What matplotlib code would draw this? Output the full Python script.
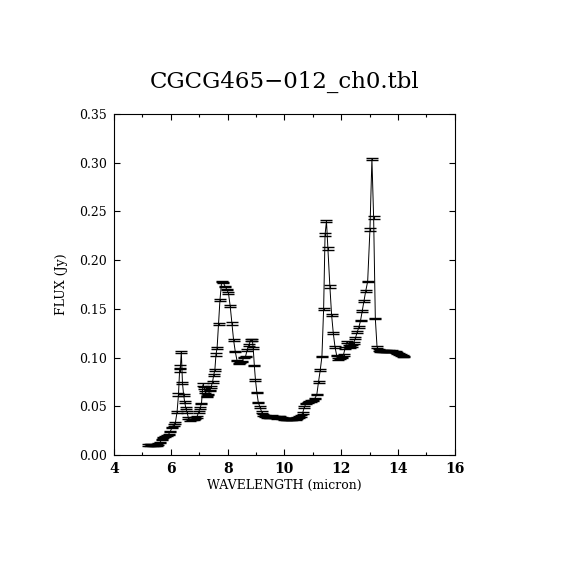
import matplotlib
matplotlib.use('Agg')
from matplotlib import pyplot as plt
from matplotlib.ticker import MultipleLocator, FormatStrFormatter

# spectrum (micron, Jy)
wavelength = [5.20, 5.26, 5.32, 5.38, 5.44, 5.50, 5.56, 5.62, 5.68, 5.74,
              5.80, 5.86, 5.92, 5.98, 6.04, 6.10, 6.16, 6.22, 6.27, 6.31,
              6.34, 6.37, 6.41, 6.45, 6.49, 6.53, 6.57, 6.62, 6.68, 6.74,
              6.80, 6.86, 6.92, 6.98, 7.03, 7.08, 7.13, 7.17, 7.22, 7.27,
              7.32, 7.37, 7.42, 7.47, 7.51, 7.55, 7.59, 7.63, 7.68, 7.73,
              7.79, 7.85, 7.91, 7.97, 8.03, 8.09, 8.15, 8.21, 8.27, 8.33,
              8.39, 8.45, 8.51, 8.57, 8.63, 8.69, 8.75, 8.81, 8.87, 8.90,
              8.94, 8.98, 9.03, 9.08, 9.14, 9.20, 9.26, 9.32, 9.38, 9.44,
              9.50, 9.56, 9.62, 9.68, 9.74, 9.80, 9.86, 9.92, 9.98, 10.04,
              10.10, 10.16, 10.22, 10.28, 10.34, 10.40, 10.46, 10.52, 10.58, 10.64,
              10.70, 10.76, 10.82, 10.88, 10.94, 11.00, 11.07, 11.14, 11.20, 11.26,
              11.32, 11.38, 11.43, 11.48, 11.53, 11.60, 11.66, 11.72, 11.78, 11.84,
              11.90, 11.96, 12.02, 12.08, 12.14, 12.20, 12.26, 12.32, 12.38, 12.44,
              12.50, 12.56, 12.62, 12.68, 12.74, 12.80, 12.86, 12.93, 13.01, 13.08,
              13.14, 13.20, 13.26, 13.32, 13.38, 13.44, 13.50, 13.56, 13.62, 13.68,
              13.74, 13.80, 13.86, 13.92, 13.98, 14.04, 14.10, 14.16, 14.22]

flux = [0.0105, 0.0100, 0.0108, 0.0098, 0.0095, 0.0102, 0.0112, 0.0130, 0.0160, 0.0180,
        0.0188, 0.0200, 0.0212, 0.0240, 0.0280, 0.0310, 0.0330, 0.0440, 0.0620, 0.0870,
        0.0910, 0.1060, 0.0740, 0.0620, 0.0540, 0.0480, 0.0440, 0.0380, 0.0360, 0.0365,
        0.0362, 0.0380, 0.0392, 0.0440, 0.0480, 0.0530, 0.0720, 0.0690, 0.0650, 0.0600,
        0.0620, 0.0660, 0.0700, 0.0750, 0.0820, 0.0870, 0.1030, 0.1100, 0.1340, 0.1590,
        0.1780, 0.1770, 0.1730, 0.1700, 0.1660, 0.1530, 0.1350, 0.1180, 0.1060, 0.0970,
        0.0940, 0.0950, 0.0960, 0.1000, 0.1010, 0.1080, 0.1130, 0.1180, 0.1180, 0.1100,
        0.0920, 0.0770, 0.0640, 0.0540, 0.0490, 0.0440, 0.0410, 0.0400, 0.0390, 0.0392,
        0.0385, 0.0400, 0.0395, 0.0385, 0.0380, 0.0390, 0.0388, 0.0380, 0.0372, 0.0370,
        0.0368, 0.0370, 0.0370, 0.0368, 0.0375, 0.0372, 0.0378, 0.0390, 0.0400, 0.0430,
        0.0490, 0.0530, 0.0540, 0.0550, 0.0552, 0.0560, 0.0580, 0.0620, 0.0750, 0.0870,
        0.1010, 0.1500, 0.2260, 0.2400, 0.2120, 0.1730, 0.1440, 0.1250, 0.1110, 0.1020,
        0.0985, 0.0990, 0.1000, 0.1030, 0.1100, 0.1160, 0.1120, 0.1110, 0.1120, 0.1150,
        0.1200, 0.1260, 0.1310, 0.1380, 0.1480, 0.1580, 0.1680, 0.1780, 0.2310, 0.3040,
        0.2440, 0.1400, 0.1110, 0.1080, 0.1070, 0.1070, 0.1065, 0.1070, 0.1060, 0.1068,
        0.1060, 0.1065, 0.1060, 0.1055, 0.1045, 0.1035, 0.1025, 0.1015, 0.1010]

flux_err = [0.0008, 0.0008, 0.0008, 0.0008, 0.0008, 0.0008, 0.0008, 0.0008, 0.0008, 0.0008,
            0.0008, 0.0008, 0.0008, 0.0008, 0.0008, 0.0008, 0.0008, 0.0010, 0.0012, 0.0015,
            0.0015, 0.0012, 0.0012, 0.0010, 0.0010, 0.0008, 0.0008, 0.0008, 0.0008, 0.0008,
            0.0008, 0.0008, 0.0008, 0.0008, 0.0008, 0.0008, 0.0015, 0.0010, 0.0010, 0.0008,
            0.0008, 0.0008, 0.0010, 0.0010, 0.0010, 0.0010, 0.0012, 0.0010, 0.0010, 0.0010,
            0.0008, 0.0008, 0.0008, 0.0008, 0.0008, 0.0010, 0.0012, 0.0010, 0.0008, 0.0008,
            0.0008, 0.0008, 0.0008, 0.0008, 0.0008, 0.0008, 0.0008, 0.0010, 0.0010, 0.0008,
            0.0008, 0.0008, 0.0008, 0.0008, 0.0008, 0.0008, 0.0008, 0.0008, 0.0008, 0.0008,
            0.0008, 0.0008, 0.0008, 0.0008, 0.0008, 0.0008, 0.0008, 0.0008, 0.0008, 0.0008,
            0.0008, 0.0008, 0.0008, 0.0008, 0.0008, 0.0008, 0.0008, 0.0008, 0.0008, 0.0008,
            0.0008, 0.0008, 0.0008, 0.0008, 0.0008, 0.0008, 0.0008, 0.0008, 0.0008, 0.0008,
            0.0008, 0.0012, 0.0015, 0.0010, 0.0015, 0.0015, 0.0010, 0.0008, 0.0008, 0.0008,
            0.0008, 0.0008, 0.0008, 0.0010, 0.0010, 0.0008, 0.0010, 0.0008, 0.0008, 0.0008,
            0.0008, 0.0010, 0.0010, 0.0008, 0.0008, 0.0008, 0.0010, 0.0008, 0.0015, 0.0012,
            0.0015, 0.0008, 0.0012, 0.0010, 0.0008, 0.0008, 0.0008, 0.0008, 0.0008, 0.0008,
            0.0008, 0.0008, 0.0008, 0.0008, 0.0008, 0.0008, 0.0010, 0.0010, 0.0008]

title = 'CGCG465\u2212012_ch0.tbl'

plt.rcParams['font.family'] = ['DejaVu Serif']

fig = plt.figure(figsize=(5.7, 5.7), dpi=100)
ax = fig.add_axes([0.2, 0.2018, 0.598, 0.5982])

ax.plot(wavelength, flux, '-k', lw=0.7)
ax.errorbar(wavelength, flux, yerr=flux_err, fmt='none', ecolor='k',
            elinewidth=0.8, capsize=4, capthick=1.0)

ax.set_xlim(4, 16)
ax.set_ylim(0.0, 0.35)
ax.xaxis.set_major_locator(MultipleLocator(2))
ax.xaxis.set_minor_locator(MultipleLocator(1))
ax.yaxis.set_major_locator(MultipleLocator(0.05))
ax.yaxis.set_major_formatter(FormatStrFormatter('%.2f'))

ax.tick_params(which='both', direction='in', top=True, right=True, width=0.8)
ax.tick_params(which='major', length=4.5)
ax.tick_params(which='minor', length=2.2)
ax.tick_params(axis='y', labelsize=9, pad=5)
ax.tick_params(axis='x', labelsize=10, pad=5)
for lab in ax.get_xticklabels():
    lab.set_fontweight('bold')
for s in ax.spines.values():
    s.set_linewidth(0.8)

ax.set_xlabel('WAVELENGTH (micron)', fontsize=9)
ax.xaxis.set_label_coords(0.5, -0.07)
ax.set_ylabel('FLUX (Jy)', fontsize=9)
ax.yaxis.set_label_coords(-0.135, 0.5)

fig.text(0.5, 1 - 82 / 570, title, ha='center', va='center', fontsize=16.5)

fig.savefig('out.png', dpi=100)
